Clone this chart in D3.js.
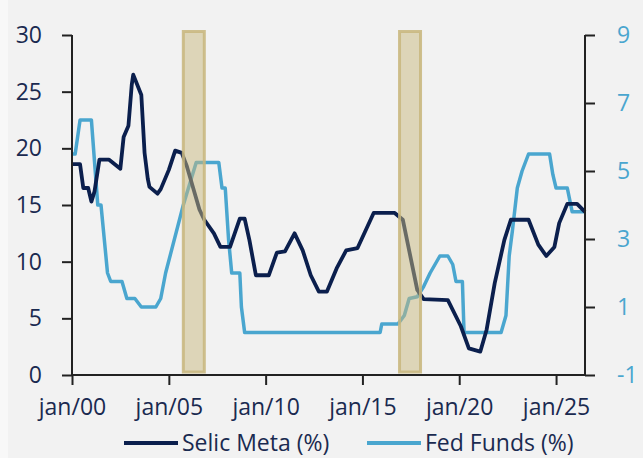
<!DOCTYPE html>
<html>
<head>
<meta charset="utf-8">
<script src="https://cdn.jsdelivr.net/npm/d3@7"></script>
<style>
  html, body { margin: 0; padding: 0; background: #f2f2f2; }
  svg { display: block; }
  text { font-family: "Open Sans", "Noto Sans", sans-serif; }
</style>
</head>
<body>
<div id="chart"></div>
<script>
// ---------- data ----------
const selicDates = ["2000-01","2000-06","2000-08","2000-11","2001-01","2001-03","2001-06","2001-12","2002-07","2002-09","2002-12","2003-02","2003-03","2003-08","2003-10","2003-12","2004-01","2004-06","2004-08","2005-01","2005-05","2005-09","2005-12","2006-08","2006-11","2007-05","2007-09","2008-03","2008-09","2008-12","2009-03","2009-07","2010-03","2010-08","2011-01","2011-07","2011-12","2012-05","2012-10","2013-03","2013-09","2014-03","2014-10","2015-08","2016-09","2017-02","2017-11","2018-03","2019-06","2020-02","2020-07","2021-02","2021-06","2021-11","2022-05","2022-09","2023-08","2024-02","2024-07","2024-12","2025-03","2025-08","2026-02","2026-07"];
const selicValues = [18.6,18.6,16.5,16.5,15.3,16.2,19.0,19.0,18.2,21.0,22.0,25.6,26.5,24.7,19.6,17.3,16.6,16.0,16.4,18.1,19.8,19.6,18.5,14.6,13.7,12.5,11.3,11.3,13.8,13.8,11.9,8.8,8.8,10.8,10.9,12.5,11.0,8.8,7.35,7.35,9.4,11.0,11.2,14.3,14.3,13.7,7.5,6.7,6.6,4.3,2.35,2.06,4.0,8.1,11.9,13.7,13.7,11.5,10.5,11.3,13.4,15.1,15.1,14.4];

const fedDates = ["2000-01","2000-03","2000-06","2001-01","2001-05","2001-07","2001-11","2002-01","2002-08","2002-11","2003-04","2003-08","2004-05","2004-08","2004-11","2005-10","2006-06","2007-08","2007-10","2007-12","2008-02","2008-04","2008-09","2008-10","2008-12","2015-12","2016-01","2016-11","2017-03","2017-06","2017-11","2018-03","2018-07","2018-10","2019-01","2019-06","2019-09","2019-11","2020-03","2020-04","2022-03","2022-06","2022-08","2022-10","2023-01","2023-04","2023-08","2024-09","2024-11","2025-01","2025-08","2025-11","2026-07"];
const fedValues = [5.5,5.5,6.5,6.5,4.0,4.0,2.0,1.75,1.75,1.25,1.25,1.0,1.0,1.25,2.0,4.0,5.25,5.25,4.5,4.5,3.0,2.0,2.0,1.0,0.25,0.25,0.5,0.5,0.75,1.25,1.3,1.6,2.0,2.25,2.5,2.5,2.25,1.75,1.75,0.25,0.25,0.75,2.5,3.25,4.5,5.0,5.5,5.5,4.9,4.5,4.5,3.8,3.8];

const bandStarts = ["2005-10","2016-12"];
const bandEnds = ["2006-11","2018-01"];

const leftTicks = [0,5,10,15,20,25,30];
const rightTicks = [-1,1,3,5,7,9];
const xTickDates = ["2000-01","2005-01","2010-01","2015-01","2020-01","2025-01"];
const seriesNames = ["Selic Meta (%)","Fed Funds (%)"];

// ---------- drawing ----------
const W = 643, H = 458;
const parse = d3.timeParse("%Y-%m");
const navy = "#0b1f4d", blue = "#4aa6cf", textNavy = "#1a2a50";

const svg = d3.select("#chart").append("svg").attr("width", W).attr("height", H);
svg.append("rect").attr("width", W).attr("height", H).attr("fill", "#f2f2f2");
svg.append("rect").attr("width", 8).attr("height", H).attr("fill", "#f8f8f8");

const x = d3.scaleTime().domain([parse("2000-01"), parse("2026-07")]).range([72, 585]);
const yL = d3.scaleLinear().domain([0, 30]).range([375, 35]);
const yR = d3.scaleLinear().domain([-1, 9]).range([375, 35]);

const selic = selicDates.map((d, i) => ({ date: parse(d), v: selicValues[i] }));
const fed = fedDates.map((d, i) => ({ date: parse(d), v: fedValues[i] }));

svg.append("path").datum(fed)
  .attr("fill", "none").attr("stroke", blue).attr("stroke-width", 3.5)
  .attr("stroke-linejoin", "round")
  .attr("d", d3.line().x(d => x(d.date)).y(d => yR(d.v)));

svg.append("path").datum(selic)
  .attr("fill", "none").attr("stroke", navy).attr("stroke-width", 3.8)
  .attr("stroke-linejoin", "round")
  .attr("d", d3.line().x(d => x(d.date)).y(d => yL(d.v)));

// shaded bands (on top of lines)
bandStarts.forEach((s, i) => {
  const x0 = x(parse(s)), x1 = x(parse(bandEnds[i]));
  svg.append("rect")
    .attr("x", x0).attr("width", x1 - x0)
    .attr("y", yL(30) - 3.5).attr("height", yL(0) - 3 - (yL(30) - 3.5))
    .attr("fill", "rgb(200,184,126)").attr("fill-opacity", 0.5)
    .attr("stroke", "rgb(200,182,124)").attr("stroke-opacity", 0.85).attr("stroke-width", 3);
});

// axes
const fontSize = 23;
const gL = svg.append("g").attr("transform", "translate(72,0)")
  .call(d3.axisLeft(yL).tickValues(leftTicks).tickSize(10).tickPadding(20).tickFormat(d3.format("d")));
const gR = svg.append("g").attr("transform", "translate(585,0)")
  .call(d3.axisRight(yR).tickValues(rightTicks).tickSize(10).tickPadding(22).tickFormat(d => d < 0 ? "-" + Math.abs(d) : d));
const gX = svg.append("g").attr("transform", "translate(0,375)")
  .call(d3.axisBottom(x).tickValues(xTickDates.map(parse)).tickSize(10).tickPadding(14).tickFormat(d3.timeFormat("jan/%y")));

[gL, gR, gX].forEach(g => {
  g.select(".domain").attr("stroke", "#222").attr("stroke-width", 2);
  g.selectAll(".tick line").attr("stroke", "#222").attr("stroke-width", 2);
  g.selectAll(".tick text").attr("font-size", fontSize).attr("font-family", "'Open Sans', sans-serif");
});
gL.select(".domain").attr("d", "M0,35V375");
gR.select(".domain").attr("d", "M0,35V375");
gX.select(".domain").attr("d", "M72,0H585");
gL.selectAll(".tick text").attr("fill", textNavy);
gX.selectAll(".tick text").attr("fill", textNavy);
gR.selectAll(".tick text").attr("fill", blue);

// legend
const legend = svg.append("g");
const legendItems = [
  { name: seriesNames[0], color: navy, x0: 124 },
  { name: seriesNames[1], color: blue, x0: 367 }
];
legendItems.forEach(it => {
  legend.append("line").attr("x1", it.x0).attr("x2", it.x0 + 54)
    .attr("y1", 443).attr("y2", 443).attr("stroke", it.color).attr("stroke-width", 4);
  legend.append("text").attr("x", it.x0 + 58).attr("y", 451)
    .attr("font-size", fontSize).attr("fill", textNavy).text(it.name);
});
</script>
</body>
</html>
